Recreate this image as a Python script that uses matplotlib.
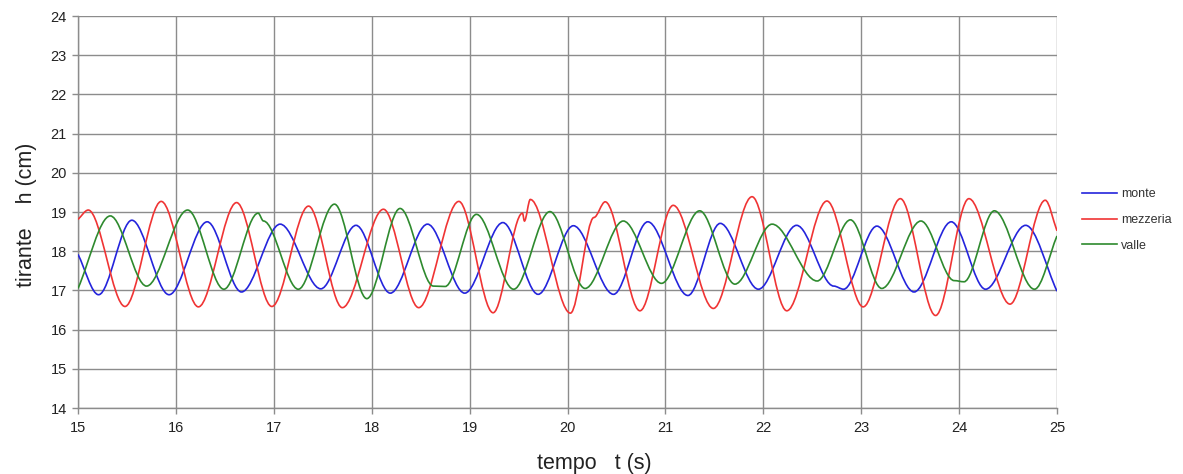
import matplotlib.pyplot as plt
import numpy as np
from matplotlib.path import Path
from matplotlib.patches import PathPatch
from matplotlib.lines import Line2D

# values (turning points of each trace)
monte_t = [15.0, 15.21, 15.55, 15.93, 16.32, 16.67, 17.065, 17.48, 17.84, 18.19,
           18.57, 18.95, 19.34, 19.70, 20.06, 20.47, 20.82, 21.23, 21.56, 21.95,
           22.34, 22.72, 22.82, 23.16, 23.54, 23.92, 24.27, 24.68, 25.0]
monte_h = [17.92, 16.89, 18.79, 16.89, 18.75, 16.96, 18.69, 17.04, 18.66, 16.93,
           18.69, 16.93, 18.73, 16.90, 18.65, 16.90, 18.75, 16.87, 18.71, 17.03,
           18.66, 17.11, 17.03, 18.64, 16.96, 18.75, 17.03, 18.66, 16.98]

mezzeria_t = [15.0, 15.105, 15.48, 15.85, 16.23, 16.62, 16.98, 17.355, 17.70, 18.12,
              18.48, 18.89, 19.24, 19.54, 19.56, 19.62, 20.03, 20.27, 20.385, 20.74,
              21.08, 21.49, 21.885, 22.24, 22.65, 23.02, 23.40, 23.76, 24.10, 24.52,
              24.88, 25.0]
mezzeria_h = [18.81, 19.05, 16.59, 19.27, 16.58, 19.24, 16.59, 19.15, 16.56, 19.07,
              16.56, 19.27, 16.43, 18.97, 18.77, 19.32, 16.42, 18.86, 19.26, 16.48,
              19.17, 16.54, 19.39, 16.48, 19.28, 16.58, 19.34, 16.36, 19.34, 16.65,
              19.30, 18.52]

valle_t = [15.0, 15.33, 15.70, 16.12, 16.49, 16.84, 16.895, 17.25, 17.62, 17.95,
           18.29, 18.63, 18.75, 19.07, 19.45, 19.82, 20.18, 20.57, 20.96, 21.35,
           21.71, 22.09, 22.55, 22.89, 23.21, 23.61, 23.95, 24.05, 24.36, 24.77, 25.0]
valle_h = [17.05, 18.90, 17.11, 19.05, 17.03, 18.97, 18.77, 17.03, 19.20, 16.79,
           19.09, 17.11, 17.10, 18.94, 17.03, 19.01, 17.05, 18.77, 17.18, 19.03,
           17.16, 18.69, 17.24, 18.80, 17.05, 18.77, 17.25, 17.22, 19.03, 17.03, 18.39]

labels = ['monte', 'mezzeria', 'valle']
colors = ['#2424dc', '#f03434', '#2e8a2e']


def smooth_path(t, h):
    '''
    build a bezier path through the turning points (flat tangents)
    '''
    verts = [(t[0], h[0])]
    codes = [Path.MOVETO]
    n = len(t)
    for i in range(n - 1):
        t0, h0, t1, h1 = t[i], h[i], t[i + 1], h[i + 1]
        dt = t1 - t0
        c1 = (t0 + dt / 3, h0 if i > 0 else h0 + (h1 - h0) / 3)
        c2 = (t1 - dt / 3, h1 if i < n - 2 else h1 - (h1 - h0) / 3)
        verts += [c1, c2, (t1, h1)]
        codes += [Path.CURVE4] * 3
    return Path(verts, codes)


def main():
    plt.rcParams['font.family'] = ['Liberation Sans', 'DejaVu Sans']
    fig = plt.figure(figsize=(11.83, 4.74), dpi=100)
    ax = fig.add_axes([78 / 1183, 1 - 408 / 474, 979 / 1183, 392 / 474])

    series = [(monte_t, monte_h), (mezzeria_t, mezzeria_h), (valle_t, valle_h)]
    for (t, h), c in zip(series, colors):
        patch = PathPatch(smooth_path(t, h), fill=False, edgecolor=c,
                          lw=1.2, transform=ax.transData, zorder=3)
        ax.add_patch(patch)

    ax.set_xlim(15, 25)
    ax.set_ylim(14, 24)
    ax.set_xticks(np.arange(15, 26, 1))
    ax.set_yticks(np.arange(14, 25, 1))
    ax.grid(True, color='#8c8c8c', lw=1.0)
    ax.set_axisbelow(True)
    for s in ['top', 'right']:
        ax.spines[s].set_visible(False)
    for s in ['left', 'bottom']:
        ax.spines[s].set_color('#8c8c8c')
        ax.spines[s].set_linewidth(1.0)
    ax.tick_params(axis='both', colors='#8c8c8c', labelcolor='#222222',
                   labelsize=10.5, length=4, width=1.0)
    ax.tick_params(axis='y', pad=4)
    ax.tick_params(axis='x', pad=5)

    ax.set_xlabel('tempo   t (s)', fontsize=15.5, color='#222222', labelpad=13)
    ax.xaxis.label.set_x((594 - 78) / 979)
    ax.set_ylabel('tirante    h (cm)', fontsize=15.5, color='#222222', labelpad=10)
    ax.yaxis.label.set_y((408 - 215) / 392)

    handles = [Line2D([], [], color=c, lw=1.2) for c in colors]
    fig.legend(handles, labels, loc='center left',
               bbox_to_anchor=(1071 / 1183, 1 - 220 / 474), frameon=False,
               fontsize=9, handlelength=2.8, handletextpad=0.3,
               labelspacing=1.1, labelcolor='#333333')

    plt.savefig('out.png', dpi=100)
    plt.close(fig)


if __name__ == '__main__':
    main()
